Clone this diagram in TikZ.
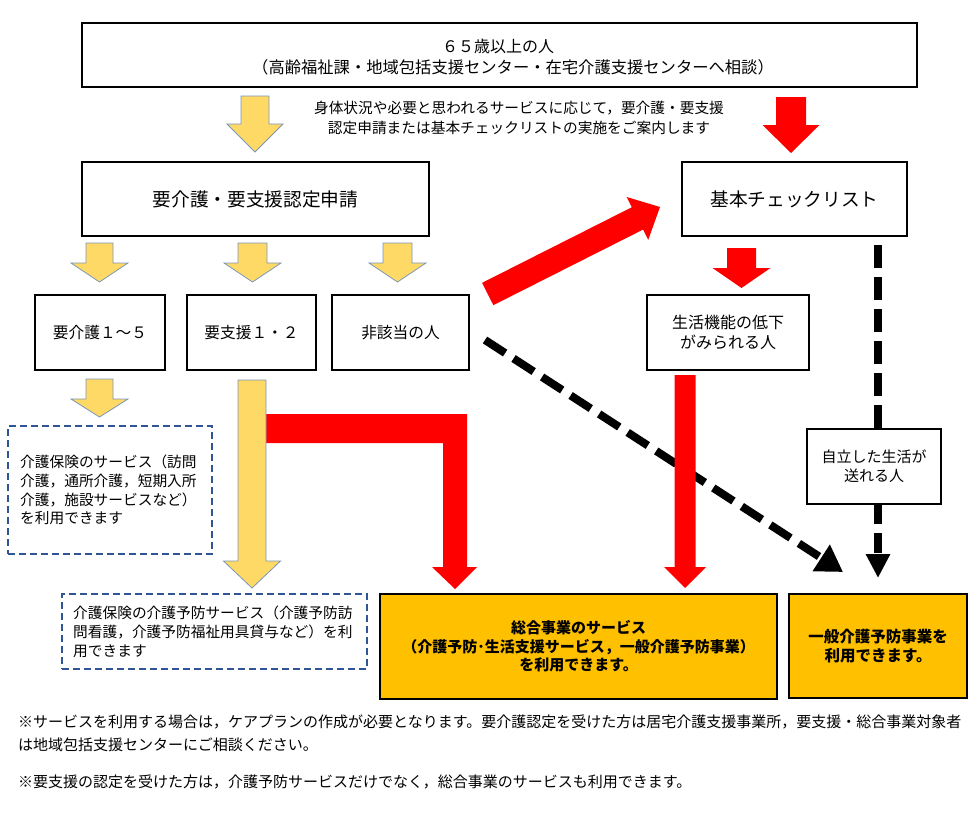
\documentclass[tikz,border=0pt]{standalone}
\usepackage{fontspec}
\setmainfont{Noto Sans CJK JP}
\usetikzlibrary{arrows.meta,calc}
\definecolor{ylw}{RGB}{255,217,102}
\definecolor{ylwline}{RGB}{120,150,185}
\definecolor{rd}{RGB}{255,0,0}
\definecolor{orng}{RGB}{255,192,0}
\definecolor{dblue}{RGB}{47,85,151}
\newcommand\blockdn[7]{\path[#1] (#2-#4,#3) -- (#2+#4,#3) -- (#2+#4,#6) -- (#2+#5,#6) -- (#2,#7) -- (#2-#5,#6) -- (#2-#4,#6) -- cycle;}
\tikzset{
  box/.style={draw=black, line width=1.6pt, fill=white, inner sep=0pt, align=center},
  dbox/.style={draw=dblue, line width=1.3pt, dash pattern=on 7pt off 4pt, inner sep=0pt},
  obox/.style={draw=black, line width=2pt, fill=orng, inner sep=0pt, align=center},
  yarrow/.style={fill=ylw, draw=ylwline, line width=0.8pt},
  rarrow/.style={fill=rd},
  bdash/.style={draw=black, line width=8pt},
  txt/.style={inner sep=0pt, align=left},
}
\begin{document}
\begin{tikzpicture}[x=1pt,y=-1pt]
\useasboundingbox (0,0) rectangle (973,827);

% boxes
\node[box, minimum width=835pt, minimum height=64pt] (top) at (499.5,55) {};
\node[txt, font=\fontsize{16}{20}\selectfont] (topt1) at (498,46) {６５歳以上の人};
\node[txt, font=\fontsize{16.3}{20}\selectfont] (topt2) at (513,67) {（高齢福祉課・地域包括支援センター・在宅介護支援センターへ相談）};
\node[txt, align=center, font=\fontsize{14.7}{20}\selectfont] (guide) at (519,118) {身体状況や必要と思われるサービスに応じて，要介護・要支援\\認定申請または基本チェックリストの実施をご案内します};

\node[box, minimum width=347pt, minimum height=74pt, font=\fontsize{18.7}{22}\selectfont] (apply) at (255.5,199) {要介護・要支援認定申請};
\node[box, minimum width=225pt, minimum height=74pt, font=\fontsize{18.7}{22}\selectfont] (check) at (794.5,199) {基本チェックリスト};

\node[box, minimum width=130pt, minimum height=75pt, font=\fontsize{15.7}{20}\selectfont] (k15) at (100,332.5) {要介護１～５};
\node[box, minimum width=129pt, minimum height=75pt, font=\fontsize{15.7}{20}\selectfont] (s12) at (251.5,332.5) {要支援１・２};
\node[box, minimum width=137pt, minimum height=75pt, font=\fontsize{15.7}{20}\selectfont] (hi) at (400.5,332.5) {非該当の人};
\node[box, minimum width=162pt, minimum height=75pt, font=\fontsize{16}{20}\selectfont] (seik) at (728,332.5) {生活機能の低下\\がみられる人};
\node[box, minimum width=134pt, minimum height=75pt, font=\fontsize{15}{19}\selectfont] (jiri) at (874,466.5) {自立した生活が\\送れる人};

\node[dbox, minimum width=204pt, minimum height=128pt] (db1) at (110,490) {};
\node[txt, anchor=west, font=\fontsize{14.7}{18.7}\selectfont] (db1t) at (20,490) {介護保険のサービス（訪問\\介護，通所介護，短期入所\\介護，施設サービスなど）\\を利用できます};
\node[dbox, minimum width=305pt, minimum height=75pt] (db2) at (214.5,631.5) {};
\node[txt, anchor=west, font=\fontsize{14.7}{19}\selectfont] (db2t) at (73,632) {介護保険の介護予防サービス（介護予防訪\\問看護，介護予防福祉用具貸与など）を利\\用できます};

\node[obox, minimum width=397pt, minimum height=105pt, font=\bfseries\fontsize{15}{18.5}\selectfont] (ob1) at (578.5,646.5) {総合事業のサービス\\（介護予防･生活支援サービス，一般介護予防事業）\\を利用できます。};
\node[obox, minimum width=178pt, minimum height=104pt, font=\bfseries\fontsize{15.5}{19}\selectfont] (ob2) at (878,646) {一般介護予防事業を\\利用できます。};

% dashed black connectors
\coordinate (dd1) at (485,340);
\coordinate (dd2) at (843,572);
\draw[bdash, dash pattern=on 24pt off 10pt, -{Triangle[length=26pt,width=30pt]}] (dd1) -- (dd2);
\coordinate (dv1) at (878,245);
\coordinate (dv2) at (878,429);
\coordinate (dv3) at (878,504);
\coordinate (dv4) at (878,578);
\draw[bdash, dash pattern=on 23pt off 9pt] (dv1) -- (dv2);
\draw[bdash, dash pattern=on 20pt off 9pt, -{Triangle[length=24pt,width=23pt]}] (dv3) -- (dv4);

% yellow block arrows
\blockdn{yarrow}{255}{96}{14}{28}{124}{152}
\blockdn{yarrow}{99.5}{243}{13.5}{28.5}{263}{282}
\blockdn{yarrow}{252.5}{243}{14.5}{28.5}{263}{282}
\blockdn{yarrow}{397.5}{243}{14.5}{28.5}{263}{282}
\blockdn{yarrow}{99.5}{379}{13.5}{28.5}{399}{417}

% red block arrows
\blockdn{rarrow}{791}{97}{15}{28.5}{125}{153}
\blockdn{rarrow}{741.5}{248}{14.5}{29}{268}{288}
\blockdn{rarrow}{685}{375}{10.5}{21}{567}{588}
\fill[rd] (266,414) -- (467,414) -- (467,567) -- (477,567) -- (455,589) -- (432,567) -- (443,567) -- (443,443) -- (266,443) -- cycle;

% long yellow arrow
\blockdn{yarrow}{252}{380}{14}{28.5}{561}{588}

% red diagonal arrow
\coordinate (ds) at (487.7,294);
\coordinate (dt) at (660,207);
\coordinate (dm) at ($(dt)!25.3pt!(ds)$);
\fill[rd] ($(ds)!12.5pt!90:(dt)$) -- ($(dm)!12.5pt!90:(dt)$) -- ($(dm)!24pt!90:(dt)$) -- (dt)
  -- ($(dm)!24pt!-90:(dt)$) -- ($(dm)!12.5pt!-90:(dt)$) -- ($(ds)!12.5pt!-90:(dt)$) -- cycle;

% footnotes
\node[txt, anchor=west, font=\fontsize{15}{18}\selectfont] (fn1) at (18,722) {※サービスを利用する場合は，ケアプランの作成が必要となります。要介護認定を受けた方は居宅介護支援事業所，要支援・総合事業対象者};
\node[txt, anchor=west, font=\fontsize{15}{18}\selectfont] (fn2) at (18,745) {は地域包括支援センターにご相談ください。};
\node[txt, anchor=west, font=\fontsize{15}{18}\selectfont] (fn3) at (18,782) {※要支援の認定を受けた方は，介護予防サービスだけでなく，総合事業のサービスも利用できます。};
\end{tikzpicture}
\end{document}
